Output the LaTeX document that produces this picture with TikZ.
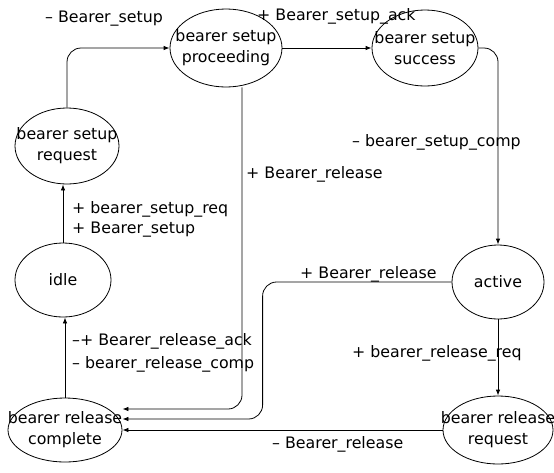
\documentclass[tikz,border=0pt]{standalone}
\usepackage{fontspec}
\setmainfont{DejaVu Sans}
\usetikzlibrary{shapes.geometric,arrows.meta}

\begin{document}
\begin{tikzpicture}[x=1pt,y=-1pt,
   font=\fontsize{15.8}{21}\selectfont,
   st/.style={draw,ellipse,line width=.8pt,inner xsep=-20pt,inner ysep=0pt,align=center},
   tr/.style={-{Latex[length=6pt,width=4.5pt]},line width=.8pt,rounded corners=14pt},
   lb/.style={anchor=base west,inner sep=0pt}]
\useasboundingbox (0,0) rectangle (554,472);
   \node[st,minimum width=112,minimum height=78] (pro) at (226,48) {bearer setup\\proceeding};
     \node[st,minimum width=106,minimum height=76] (suc) at (425,48) {bearer setup\\success};
    \node[st,minimum width=104,minimum height=76] (req) at (67,146) {bearer setup\\request};
       \node[st,minimum width=96,minimum height=74] (idle) at (63,280) {idle};
          \node[st,minimum width=92,minimum height=74] (act) at (498,282) {active};
              \node[st,minimum width=114,minimum height=64] (com) at (65,430) {bearer release\\complete};
   \node[st,minimum width=110,minimum height=68] (rreq) at (498,430) {bearer release\\request};

   \draw[tr] (req.north) |- (pro.west);
     \draw[tr] (pro.east) -- (suc.west);
    \draw[tr] (suc.east) -| (act.north);
       \draw[tr] (idle.north) -- (idle.north |- req.south);
          \draw[tr] (com.north) -- (com.north |- idle.south);
   \draw[tr] ([xshift=16pt]pro.south) |- ([yshift=21pt]com.east);
     \draw[tr] (act.west) -- ++(-189,0) |- ([yshift=11pt]com.east);
    \draw[tr] (rreq.west) -- (com.east);
       \draw[tr] (act.south) -- (rreq.north);

   \node[lb] (lsetup) at (45,22) {-- Bearer\_setup};
     \node[lb] (lack) at (257,20) {+ Bearer\_setup\_ack};
    \node[lb] (lcomp) at (352,146) {-- bearer\_setup\_comp};
       \node[lb] (lrel1) at (246,178) {+ Bearer\_release};
          \node[lb] (lreq) at (72,213) {+ bearer\_setup\_req};
              \node[lb] (lsetup2) at (72,233) {+ Bearer\_setup};
   \node[lb] (lrel2) at (300,278) {+ Bearer\_release};
     \node[lb] (lrack) at (72,345) {--+ Bearer\_release\_ack};
    \node[lb] (lrcomp) at (72,368) {-- bearer\_release\_comp};
       \node[lb] (lrreq) at (352,357) {+ bearer\_release\_req};
          \node[lb] (lrel3) at (272,448) {-- Bearer\_release};
  \end{tikzpicture}
\end{document}
